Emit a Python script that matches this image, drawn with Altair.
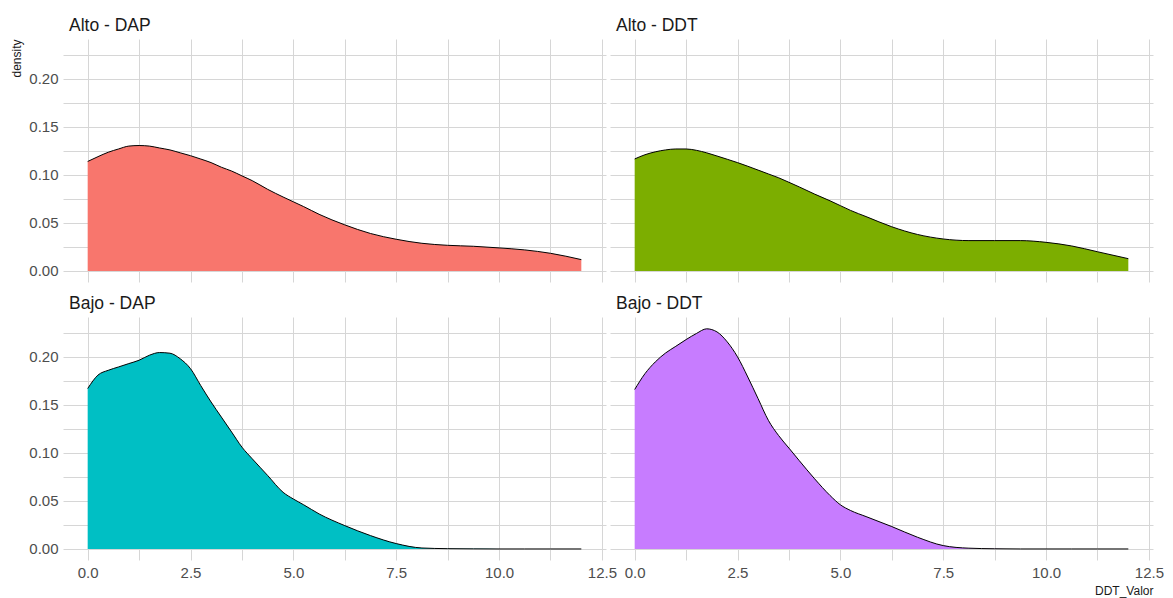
import altair as alt
import pandas as pd

# ---- data ----
X_VALUES = [0, 0.25, 0.5, 0.75, 1, 1.25, 1.5, 1.75, 2, 2.25, 2.5, 2.75, 3, 3.25, 3.5, 3.75,
            4, 4.375, 4.75, 5, 5.25, 5.625, 6.25, 6.875, 7.5, 8.125, 8.75, 9.375, 10,
            10.625, 11.25, 12]

ALTO_DAP = [0.114, 0.119, 0.1236, 0.127, 0.130, 0.1306, 0.130, 0.128, 0.126, 0.123, 0.120,
            0.1165, 0.1128, 0.108, 0.104, 0.099, 0.094, 0.085, 0.077, 0.072, 0.067, 0.059,
            0.048, 0.039, 0.033, 0.0288, 0.0267, 0.0257, 0.024, 0.0219, 0.0184, 0.0118]

ALTO_DDT = [0.1166, 0.121, 0.124, 0.126, 0.127, 0.127, 0.1256, 0.123, 0.1197, 0.1163, 0.1128,
            0.109, 0.105, 0.101, 0.097, 0.0923, 0.0875, 0.080, 0.073, 0.068, 0.063, 0.0566,
            0.046, 0.038, 0.0333, 0.0316, 0.0316, 0.0316, 0.0298, 0.026, 0.020, 0.0128]

BAJO_DAP = [0.167, 0.181, 0.186, 0.1895, 0.193, 0.1965, 0.2017, 0.2045, 0.2038, 0.198, 0.1877,
            0.170, 0.153, 0.1373, 0.1217, 0.106, 0.0939, 0.0765, 0.059, 0.052, 0.046, 0.0365,
            0.0243, 0.0139, 0.0056, 0.001, 0.0003, 0.0001, 0.0, 0.0, 0.0, 0.0]

BAJO_DDT = [0.166, 0.1825, 0.1947, 0.204, 0.211, 0.218, 0.2243, 0.2292, 0.226, 0.2156, 0.200,
            0.179, 0.1565, 0.1339, 0.118, 0.105, 0.092, 0.073, 0.0556, 0.046, 0.040, 0.0337,
            0.0233, 0.0122, 0.0035, 0.0008, 0.0002, 0.0, 0.0, 0.0, 0.0, 0.0]

PANEL_NAMES = ["Alto - DAP", "Alto - DDT", "Bajo - DAP", "Bajo - DDT"]
PANEL_COLORS = ["#F8766D", "#7CAE00", "#00BFC4", "#C77CFF"]

X_GRID = [0, 1.25, 2.5, 3.75, 5, 6.25, 7.5, 8.75, 10, 11.25, 12.5]
Y_GRID = [0, 0.025, 0.05, 0.075, 0.1, 0.125, 0.15, 0.175, 0.2, 0.225]

X_DOMAIN = [-0.6, 12.6]
Y_DOMAIN = [-0.0115, 0.2415]

FONT = "Liberation Sans"
GRID_COLOR = "#d6d6d6"
LABEL_COLOR = "#4d4d4d"

PANEL_W = 543
PANEL_H = 243


def panel(name, dens, color, show_x, show_y, x_title=None, y_title=None):
    df = pd.DataFrame({"DDT_Valor": X_VALUES, "density": dens})

    x_axis_kw = dict(values=X_GRID, grid=True, gridColor=GRID_COLOR, gridWidth=1,
                     ticks=False, domain=False, labels=show_x, labelFlush=False,
                     labelOverlap=False, labelFont=FONT, labelFontSize=15,
                     labelColor=LABEL_COLOR, labelPadding=5,
                     labelExpr="round(datum.value / 1.25) % 2 == 0 ? format(datum.value, '.1f') : ''")
    if x_title:
        x_axis_kw.update(title=x_title, titleAnchor="end", titleFont=FONT, titleFontSize=12,
                         titleFontWeight="normal", titleColor="#1a1a1a", titlePadding=5)
    else:
        x_axis_kw.update(title=None)

    y_axis_kw = dict(values=Y_GRID, grid=True, gridColor=GRID_COLOR, gridWidth=1,
                     ticks=False, domain=False, labels=show_y, labelOverlap=False,
                     labelFont=FONT, labelFontSize=15, labelColor=LABEL_COLOR, labelPadding=5,
                     labelExpr="round(datum.value * 40) % 2 == 0 ? format(datum.value, '.2f') : ''")
    if y_title:
        y_axis_kw.update(title=y_title, titleAnchor="end", titleFont=FONT, titleFontSize=12,
                         titleFontWeight="normal", titleColor="#1a1a1a", titlePadding=5)
    else:
        y_axis_kw.update(title=None)

    x_enc = alt.X("DDT_Valor:Q", scale=alt.Scale(domain=X_DOMAIN, nice=False, zero=False),
                  axis=alt.Axis(**x_axis_kw))
    y_enc = alt.Y("density:Q", scale=alt.Scale(domain=Y_DOMAIN, nice=False, zero=False),
                  axis=alt.Axis(**y_axis_kw))

    base = alt.Chart(df)
    area = base.mark_area(color=color, opacity=1, interpolate="monotone").encode(
        x=x_enc, y=y_enc, y2=alt.datum(0))
    line = base.mark_line(color="black", strokeWidth=1, interpolate="monotone").encode(
        x=x_enc, y=y_enc)
    return alt.layer(area, line).properties(
        width=PANEL_W, height=PANEL_H,
        title=alt.TitleParams(name, anchor="start", frame="group", font=FONT, fontSize=17.5,
                              fontWeight="normal", color="#1a1a1a", dx=6, offset=-13,
                              baseline="bottom"))


p1 = panel(PANEL_NAMES[0], ALTO_DAP, PANEL_COLORS[0], show_x=False, show_y=True, y_title="density")
p2 = panel(PANEL_NAMES[1], ALTO_DDT, PANEL_COLORS[1], show_x=False, show_y=False)
p3 = panel(PANEL_NAMES[2], BAJO_DAP, PANEL_COLORS[2], show_x=True, show_y=True)
p4 = panel(PANEL_NAMES[3], BAJO_DDT, PANEL_COLORS[3], show_x=True, show_y=False, x_title="DDT_Valor")

chart = alt.concat(
    p1, p2, p3, p4, columns=2, bounds="flush", spacing={"row": 35, "column": 4},
).properties(
    padding={"left": 2, "top": 8, "right": 0, "bottom": 4},
    background="white",
).configure_view(stroke=None)

chart.save("out.html", embed_options={"renderer": "svg", "actions": False})
